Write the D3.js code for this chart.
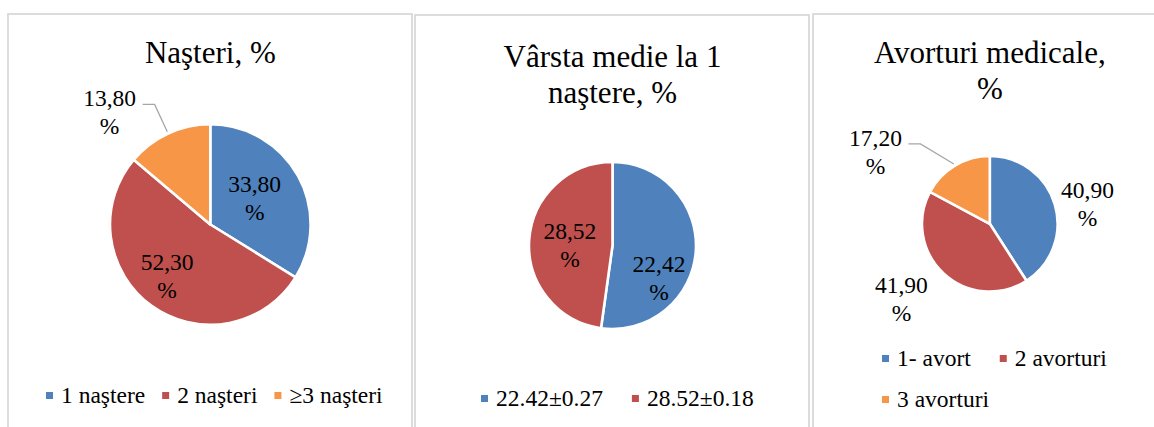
<!DOCTYPE html>
<html>
<head>
<meta charset="utf-8">
<script src="https://cdn.jsdelivr.net/npm/d3@7"></script>
<style>
  body { margin: 0; background: #fff; }
  svg { display: block; font-family: "Liberation Serif", "Times New Roman", serif; }
</style>
</head>
<body>
<svg id="chart" width="1154" height="427"></svg>
<script>
/** data **/
var birthCategories = ["1 naştere", "2 naşteri", "≥3 naşteri"];
var birthValues = [33.8, 52.3, 13.8];

var ageCategories = ["22.42±0.27", "28.52±0.18"];
var ageShares = [52.2, 47.8];          // slice sizes as drawn
var ageLabels = ["22,42", "28,52"];    // label text shown on the slices

var abortCategories = ["1- avort", "2 avorturi", "3 avorturi"];
var abortValues = [40.9, 41.9, 17.2];

var colors = ["#4f81bd", "#c0504d", "#f79646"];

function fmt(v) { return v.toFixed(2).replace(".", ","); }

var panels = [
	{
		box: [8, 14, 412, 440],
		title: ["Naşteri, %"], titleY: 63,
		cx: 210.3, cy: 224.5, r: 100.3,
		cats: birthCategories, values: birthValues, labels: birthValues.map(fmt),
		place: [{dA: -1.7, k: 0.515}, {dA: 4, k: 0.67}, {leader: true, dA: 0, k: 1.32}],
		legend: {x: 46, gap: 17, rows: [[0, 1, 2]], y: [403]}
	},
	{
		box: [415, 15, 809, 440],
		title: ["Vârsta medie la 1", "naştere, %"], titleY: 67,
		cx: 612.5, cy: 245.5, r: 83.5,
		cats: ageCategories, values: ageShares, labels: ageLabels,
		place: [{dA: 31, k: 0.68}, {dA: -3.2, k: 0.51}],
		legend: {x: 481, gap: 29, rows: [[0, 1]], y: [406]}
	},
	{
		box: [813, 14, 1170, 440],
		title: ["Avorturi medicale,", "%"], titleY: 63,
		cx: 989.8, cy: 223.8, r: 67.8,
		cats: abortCategories, values: abortValues, labels: abortValues.map(fmt),
		place: [{dA: 4.9, k: 1.47}, {dA: 7, k: 1.71}, {leader: true, dA: -10, k: 1.56}],
		legend: {x: 882, gap: 29, rows: [[0, 1], [2]], y: [366, 407]}
	}
];

var svg = d3.select("#chart");
var color = d3.scaleOrdinal().domain([0, 1, 2]).range(colors);
var pie = d3.pie().sort(null).value(function(d) { return d; });

function polar(p, deg, rad) {
	var a = deg * Math.PI / 180;
	return [p.cx + rad * Math.sin(a), p.cy - rad * Math.cos(a)];
}

panels.forEach(function(p) {
	var g = svg.append("g");

	/** panel frame **/
	g.append("rect")
		.attr("x", p.box[0]).attr("y", p.box[1])
		.attr("width", p.box[2] - p.box[0]).attr("height", p.box[3] - p.box[1])
		.style("fill", "#fff").style("stroke", "#d9d9d9").style("stroke-width", 1.8);

	/** title **/
	p.title.forEach(function(t, i) {
		g.append("text").text(t)
			.attr("x", p.cx).attr("y", p.titleY + i * 36)
			.attr("text-anchor", "middle")
			.attr("font-size", 31).style("fill", "#000");
	});

	/** slices **/
	var arcs = pie(p.values);
	var arc = d3.arc().innerRadius(0).outerRadius(p.r);
	g.selectAll("path.slice").data(arcs).enter().append("path")
		.attr("class", "slice")
		.attr("transform", "translate(" + p.cx + "," + p.cy + ")")
		.attr("d", arc)
		.style("fill", function(d, i) { return color(i); })
		.style("stroke", "#fff").style("stroke-width", 2.6).style("stroke-linejoin", "round");

	/** data labels **/
	arcs.forEach(function(d, i) {
		var pl = p.place[i];
		var mid = (d.startAngle + d.endAngle) / 2 * 180 / Math.PI;
		var tx, ty;
		if (pl.leader) {
			var edge = polar(p, mid, p.r + 2);
			var elbow = polar(p, mid + pl.dA, p.r * pl.k);
			g.append("polyline")
				.attr("points", [edge, elbow, [elbow[0] - 12, elbow[1]]].map(function(q) { return q.join(","); }).join(" "))
				.style("fill", "none").style("stroke", "#a6a6a6").style("stroke-width", 1.3);
			tx = elbow[0] - 45;
			ty = elbow[1] + 8;
		} else {
			var c = polar(p, mid + pl.dA, p.r * pl.k);
			tx = c[0]; ty = c[1];
		}
		[p.labels[i], "%"].forEach(function(t, j) {
			g.append("text").text(t)
				.attr("x", tx).attr("y", ty - 6 + j * 28)
				.attr("text-anchor", "middle")
				.attr("font-size", 23.5).style("fill", "#000");
		});
	});

	/** legend **/
	p.legend.rows.forEach(function(row, ri) {
		var x = p.legend.x, y = p.legend.y[ri];
		row.forEach(function(ci) {
			g.append("rect")
				.attr("x", x).attr("y", y - 11)
				.attr("width", 7).attr("height", 7)
				.style("fill", color(ci));
			var t = g.append("text").text(p.cats[ci])
				.attr("x", x + 15).attr("y", y)
				.attr("font-size", 23.5).style("fill", "#000");
			x = x + 15 + t.node().getComputedTextLength() + p.legend.gap;
		});
	});
});
</script>
</body>
</html>
